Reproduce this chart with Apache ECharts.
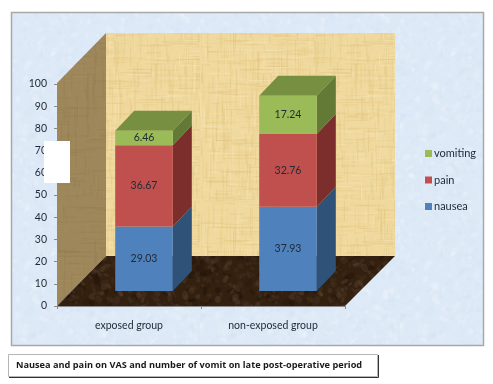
<!DOCTYPE html>
<html><head><meta charset="utf-8">
<style>html,body{margin:0;padding:0;background:#fff}#c{width:493px;height:384px}</style>
<script src="https://cdn.jsdelivr.net/npm/echarts@6/dist/echarts.min.js"></script>
</head><body><div id="c"></div>
<script>
const categories = ['exposed group', 'non-exposed group'];
const nausea = [29.03, 37.93];
const pain = [36.67, 32.76];
const vomiting = [6.46, 17.24];
const yTicks = [0, 100, 10];
const caption = 'Nausea and pain on VAS and number of vomit on late post-operative period';

const FONT = 'Lato,"Liberation Sans",sans-serif';
const TEXT = '#1f2935';
const DX = 19, DY = 20;
const faces = {
  nausea:   {front:'#4f81bd', side:'#2f5279'},
  pain:     {front:'#c0504d', side:'#7b2e2c'},
  vomiting: {front:'#9bbb59', side:'#637a36', top:'#768f41'}
};

// Deterministic paper-like textures
function texture(size, base, tint, count, alpha, streak) {
  const cv = document.createElement('canvas');
  cv.width = cv.height = size;
  const g = cv.getContext('2d');
  g.fillStyle = base; g.fillRect(0, 0, size, size);
  let s = 12345;
  const r = () => (s = (s * 1103515245 + 12345) & 0x7fffffff) / 0x7fffffff;
  for (let i = 0; i < count; i++) {
    g.fillStyle = tint[Math.floor(r() * tint.length)];
    g.globalAlpha = alpha * (0.4 + r() * 0.6);
    const x = r() * size, y = r() * size;
    if (streak) {
      const horiz = r() > 0.5;
      g.fillRect(x, y, horiz ? 6 + r() * 26 : 1, horiz ? 1 : 6 + r() * 26);
    } else {
      g.beginPath(); g.ellipse(x, y, 1 + r() * 4, 1 + r() * 2.5, r() * 3, 0, 6.3); g.fill();
    }
  }
  return {type: 'pattern', image: cv, repeat: 'repeat'};
}
const panelFill = texture(200, '#dde9f7', ['#ffffff', '#cfdff0', '#e9f2fb'], 1400, 0.2, false);
const wallFill  = texture(200, '#f0d99e', ['#e2c67f', '#f8e9bf', '#dcbd73'], 1500, 0.4, true);
const sideFill  = texture(200, '#9e875a', ['#8c7549', '#ab9568'], 900, 0.3, true);
const floorFill = texture(200, '#33200f', ['#5e4433', '#1d100a', '#4a3527'], 1300, 0.45, false);

function stackedBase(name, i) {
  if (name === 'nausea') return 0;
  if (name === 'pain') return nausea[i];
  return nausea[i] + pain[i];
}
// Side and top faces of each stacked segment, placed through the bars' own grid
function render3d(name, arr) {
  return function (params, api) {
    const i = api.value(0);
    const base = stackedBase(name, i);
    const hw = api.size([1, 0])[0] * 0.2;
    const pb = api.coord([i, base]);
    const pt = api.coord([i, base + arr[i]]);
    const xr = pb[0] + hw, xl = pb[0] - hw;
    const f = faces[name];
    const children = [{
      type: 'polygon',
      shape: {points: [[xr, pb[1]], [xr, pt[1]], [xr + DX, pt[1] - DY], [xr + DX, pb[1] - DY]]},
      style: {fill: f.side}
    }];
    if (f.top) children.push({
      type: 'polygon',
      shape: {points: [[xl, pt[1]], [xr, pt[1]], [xr + DX, pt[1] - DY], [xl + DX, pt[1] - DY]]},
      style: {fill: f.top}
    });
    return {type: 'group', children};
  };
}
function barSeries(name, arr) {
  return {
    name, type: 'bar', stack: 'total', xAxisIndex: 1, yAxisIndex: 1, barWidth: '40%', data: arr, z: 4,
    itemStyle: {color: faces[name].front},
    label: {show: true, position: 'inside', formatter: p => p.value.toFixed(2), color: TEXT,
            fontFamily: FONT, fontSize: 10.5}
  };
}
function faceSeries(name, arr) {
  return {
    type: 'custom', xAxisIndex: 1, yAxisIndex: 1, z: 3, silent: true, tooltip: {show: false},
    data: arr.map((v, i) => [i, v]), renderItem: render3d(name, arr), encode: {x: 0, y: 1}
  };
}

const chart = echarts.init(document.getElementById('c'), null, {renderer: 'canvas', width: 493, height: 384});
chart.setOption({
  animation: false,
  backgroundColor: '#ffffff',
  title: {
    text: caption, left: 11, top: 356, z: 40,
    textStyle: {fontFamily: '"Open Sans",sans-serif', fontWeight: 'bold', fontSize: 9.2, color: '#1a1a1a'}
  },
  legend: {
    orient: 'vertical', left: 420, top: 143, itemWidth: 7, itemHeight: 7, itemGap: 15.5, icon: 'rect',
    data: ['vomiting', 'pain', 'nausea'],
    textStyle: {fontFamily: FONT, fontSize: 11, color: TEXT, padding: [0, 0, 0, -3]}
  },
  grid: [
    {left: 57, top: 84, width: 288, height: 222},
    {left: 72, top: 69, width: 288, height: 222}
  ],
  xAxis: [
    {type: 'category', gridIndex: 0, data: categories, z: 5,
     axisLine: {lineStyle: {color: '#8a8a8a'}},
     axisTick: {show: true, length: 3, alignWithLabel: false, lineStyle: {color: '#8a8a8a'}},
     axisLabel: {color: TEXT, fontFamily: FONT, fontSize: 10.5, margin: 14}},
    {type: 'category', gridIndex: 1, data: categories, show: false}
  ],
  yAxis: [
    {type: 'value', gridIndex: 0, min: yTicks[0], max: yTicks[1], interval: yTicks[2], z: 5,
     axisLine: {show: true, lineStyle: {color: '#8a8a8a'}},
     axisTick: {show: true, length: 3, lineStyle: {color: '#8a8a8a'}},
     splitLine: {show: false},
     axisLabel: {color: TEXT, fontFamily: FONT, fontSize: 10.5, margin: 10}},
    {type: 'value', gridIndex: 1, min: yTicks[0], max: yTicks[1], interval: yTicks[2], show: false, splitLine: {show: false}}
  ],
  series: [
    faceSeries('nausea', nausea), faceSeries('pain', pain), faceSeries('vomiting', vomiting),
    barSeries('nausea', nausea), barSeries('pain', pain), barSeries('vomiting', vomiting)
  ],
  graphic: [
    {type: 'rect', z: -10, shape: {x: 11.5, y: 12.5, width: 472, height: 333}, style: {fill: panelFill, stroke: '#a8a8a8', lineWidth: 1.5}},
    {type: 'polygon', z: -9, shape: {points: [[106, 33], [395, 33], [395, 256], [106, 256]]}, style: {fill: wallFill}},
    {type: 'polygon', z: -9, shape: {points: [[57, 83], [106, 33], [106, 256], [57, 306]]}, style: {fill: sideFill}},
    {type: 'polygon', z: -9, shape: {points: [[57, 306], [106, 256], [395, 256], [345, 306]]}, style: {fill: floorFill}},
    {type: 'rect', z: 20, shape: {x: 44, y: 141, width: 26, height: 42}, style: {fill: '#ffffff'}},
    {type: 'rect', z: 20, shape: {x: 8.5, y: 354.5, width: 369, height: 22}, style: {fill: '#ffffff', stroke: '#b5b5b5', lineWidth: 1}},
    {type: 'polyline', z: 21, shape: {points: [[378.5, 355], [378.5, 377.5], [9, 377.5]]}, style: {fill: null, stroke: '#333333', lineWidth: 1}}
  ]
});
</script></body></html>
